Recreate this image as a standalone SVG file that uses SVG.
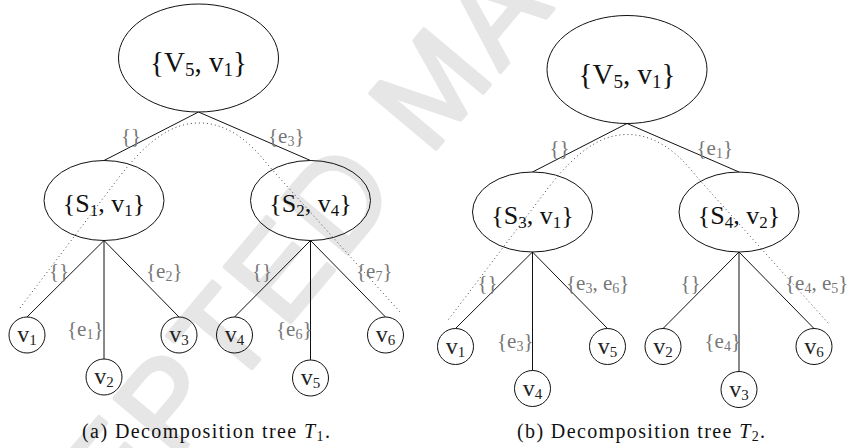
<svg xmlns="http://www.w3.org/2000/svg" width="849" height="448" viewBox="0 0 849 448">
<style>
.wm{font-family:"Liberation Sans",Arial,sans-serif;font-size:125px;letter-spacing:6px;fill:#e6e6e6;stroke:#e6e6e6;stroke-width:4;stroke-linejoin:round}
.nd{fill:none;stroke:#111;stroke-width:1}
.ed{stroke:#111;stroke-width:1;fill:none}
.dot{stroke:#444;stroke-width:1;fill:none;stroke-dasharray:1 3}
.big{font-family:"Liberation Serif","Times New Roman",serif;font-size:29px;fill:#111;text-anchor:middle}
.mid{font-family:"Liberation Serif","Times New Roman",serif;font-size:26px;fill:#111;text-anchor:middle}
.lf{font-family:"Liberation Serif","Times New Roman",serif;font-size:24px;fill:#222;text-anchor:middle}
.lb{font-family:"Liberation Serif","Times New Roman",serif;font-size:21px;fill:#777}
.cap{font-family:"Liberation Serif","Times New Roman",serif;font-size:20px;fill:#111}
</style>
<text class="wm" transform="translate(-65,746) rotate(-50)">ACCEPTED MANUSCRIPT</text>

<!-- Tree T1 -->
<g id="treeT1">
  <g id="t1-connectors">
    <path class="dot" d="M20,308 L120,176 C148,140 172,123 199,123 C228,123 250,142 268,165 L400,312"/>
    <line class="ed" x1="198.5" y1="112" x2="104" y2="160.5"/>
    <line class="ed" x1="198.5" y1="112" x2="310.5" y2="160.5"/>
    <line class="ed" x1="104" y1="240.5" x2="27" y2="317"/>
    <line class="ed" x1="104" y1="240.5" x2="104" y2="359"/>
    <line class="ed" x1="104" y1="240.5" x2="179" y2="317"/>
    <line class="ed" x1="310.5" y1="240.5" x2="234.5" y2="317"/>
    <line class="ed" x1="310.5" y1="240.5" x2="310.5" y2="360"/>
    <line class="ed" x1="310.5" y1="240.5" x2="385.5" y2="317"/>
    <text class="lb" x="121" y="143">{}</text>
    <text class="lb" x="268" y="143">{e<tspan font-size="14" dy="3">3</tspan><tspan dy="-3">}</tspan></text>
    <text class="lb" x="49" y="278">{}</text>
    <text class="lb" x="146" y="278">{e<tspan font-size="14" dy="3">2</tspan><tspan dy="-3">}</tspan></text>
    <text class="lb" x="67" y="336">{e<tspan font-size="14" dy="3">1</tspan><tspan dy="-3">}</tspan></text>
    <text class="lb" x="252" y="278">{}</text>
    <text class="lb" x="276" y="336">{e<tspan font-size="14" dy="3">6</tspan><tspan dy="-3">}</tspan></text>
    <text class="lb" x="356" y="278">{e<tspan font-size="14" dy="3">7</tspan><tspan dy="-3">}</tspan></text>
  </g>
  <g id="t1-root"><ellipse class="nd" cx="198.5" cy="58" rx="80" ry="54"/><text class="big" x="198.5" y="72">{V<tspan font-size="19" dy="4">5</tspan><tspan dy="-4">, v</tspan><tspan font-size="19" dy="4">1</tspan><tspan dy="-4">}</tspan></text></g>
  <g id="t1-s1"><ellipse class="nd" cx="104" cy="200.5" rx="60" ry="40"/><text class="mid" x="104" y="212">{S<tspan font-size="17" dy="4">1</tspan><tspan dy="-4">, v</tspan><tspan font-size="17" dy="4">1</tspan><tspan dy="-4">}</tspan></text></g>
  <g id="t1-s2"><ellipse class="nd" cx="310.5" cy="200.5" rx="60" ry="40"/><text class="mid" x="310.5" y="212">{S<tspan font-size="17" dy="4">2</tspan><tspan dy="-4">, v</tspan><tspan font-size="17" dy="4">4</tspan><tspan dy="-4">}</tspan></text></g>
  <g id="t1-v1"><circle class="nd" cx="27" cy="335" r="18"/><text class="lf" x="27" y="342">v<tspan font-size="15" dy="3">1</tspan></text></g>
  <g id="t1-v2"><circle class="nd" cx="104" cy="377" r="18"/><text class="lf" x="104" y="384">v<tspan font-size="15" dy="3">2</tspan></text></g>
  <g id="t1-v3"><circle class="nd" cx="179" cy="335" r="18"/><text class="lf" x="179" y="342">v<tspan font-size="15" dy="3">3</tspan></text></g>
  <g id="t1-v4"><circle class="nd" cx="234.5" cy="335" r="18"/><text class="lf" x="234.5" y="342">v<tspan font-size="15" dy="3">4</tspan></text></g>
  <g id="t1-v5"><circle class="nd" cx="310.5" cy="378" r="18"/><text class="lf" x="310.5" y="385">v<tspan font-size="15" dy="3">5</tspan></text></g>
  <g id="t1-v6"><circle class="nd" cx="385.5" cy="335" r="18"/><text class="lf" x="385.5" y="342">v<tspan font-size="15" dy="3">6</tspan></text></g>
</g>
<text class="cap" x="82" y="438" textLength="248" lengthAdjust="spacing">(a) Decomposition tree <tspan font-style="italic">T</tspan><tspan font-size="14" dy="3">1</tspan><tspan dy="-3">.</tspan></text>

<!-- Tree T2 -->
<g id="treeT2" transform="translate(428.5,11.5)">
  <g id="t2-connectors">
    <path class="dot" d="M20,308 L120,176 C148,140 172,123 199,123 C228,123 250,142 268,165 L400,312"/>
    <line class="ed" x1="198.5" y1="112" x2="104" y2="160.5"/>
    <line class="ed" x1="198.5" y1="112" x2="310.5" y2="160.5"/>
    <line class="ed" x1="104" y1="240.5" x2="27" y2="317"/>
    <line class="ed" x1="104" y1="240.5" x2="104" y2="359"/>
    <line class="ed" x1="104" y1="240.5" x2="179" y2="317"/>
    <line class="ed" x1="310.5" y1="240.5" x2="234.5" y2="317"/>
    <line class="ed" x1="310.5" y1="240.5" x2="310.5" y2="360"/>
    <line class="ed" x1="310.5" y1="240.5" x2="385.5" y2="317"/>
    <text class="lb" x="121" y="143">{}</text>
    <text class="lb" x="268" y="143">{e<tspan font-size="14" dy="3">1</tspan><tspan dy="-3">}</tspan></text>
    <text class="lb" x="49" y="278">{}</text>
    <text class="lb" x="137.5" y="278">{e<tspan font-size="14" dy="3">3</tspan><tspan dy="-3">, e</tspan><tspan font-size="14" dy="3">6</tspan><tspan dy="-3">}</tspan></text>
    <text class="lb" x="68.5" y="336">{e<tspan font-size="14" dy="3">3</tspan><tspan dy="-3">}</tspan></text>
    <text class="lb" x="252" y="278">{}</text>
    <text class="lb" x="276" y="336">{e<tspan font-size="14" dy="3">4</tspan><tspan dy="-3">}</tspan></text>
    <text class="lb" x="356.5" y="278">{e<tspan font-size="14" dy="3">4</tspan><tspan dy="-3">, e</tspan><tspan font-size="14" dy="3">5</tspan><tspan dy="-3">}</tspan></text>
  </g>
  <g id="t2-root"><ellipse class="nd" cx="198.5" cy="58" rx="80" ry="54"/><text class="big" x="198.5" y="72">{V<tspan font-size="19" dy="4">5</tspan><tspan dy="-4">, v</tspan><tspan font-size="19" dy="4">1</tspan><tspan dy="-4">}</tspan></text></g>
  <g id="t2-s3"><ellipse class="nd" cx="104" cy="200.5" rx="60" ry="40"/><text class="mid" x="104" y="212">{S<tspan font-size="17" dy="4">3</tspan><tspan dy="-4">, v</tspan><tspan font-size="17" dy="4">1</tspan><tspan dy="-4">}</tspan></text></g>
  <g id="t2-s4"><ellipse class="nd" cx="310.5" cy="200.5" rx="60" ry="40"/><text class="mid" x="310.5" y="212">{S<tspan font-size="17" dy="4">4</tspan><tspan dy="-4">, v</tspan><tspan font-size="17" dy="4">2</tspan><tspan dy="-4">}</tspan></text></g>
  <g id="t2-v1"><circle class="nd" cx="27" cy="335" r="18"/><text class="lf" x="27" y="342">v<tspan font-size="15" dy="3">1</tspan></text></g>
  <g id="t2-v4"><circle class="nd" cx="104" cy="377" r="18"/><text class="lf" x="104" y="384">v<tspan font-size="15" dy="3">4</tspan></text></g>
  <g id="t2-v5"><circle class="nd" cx="179" cy="335" r="18"/><text class="lf" x="179" y="342">v<tspan font-size="15" dy="3">5</tspan></text></g>
  <g id="t2-v2"><circle class="nd" cx="234.5" cy="335" r="18"/><text class="lf" x="234.5" y="342">v<tspan font-size="15" dy="3">2</tspan></text></g>
  <g id="t2-v3"><circle class="nd" cx="310.5" cy="378" r="18"/><text class="lf" x="310.5" y="385">v<tspan font-size="15" dy="3">3</tspan></text></g>
  <g id="t2-v6"><circle class="nd" cx="385.5" cy="335" r="18"/><text class="lf" x="385.5" y="342">v<tspan font-size="15" dy="3">6</tspan></text></g>
</g>
<text class="cap" x="517" y="438" textLength="248" lengthAdjust="spacing">(b) Decomposition tree <tspan font-style="italic">T</tspan><tspan font-size="14" dy="3">2</tspan><tspan dy="-3">.</tspan></text>
</svg>
